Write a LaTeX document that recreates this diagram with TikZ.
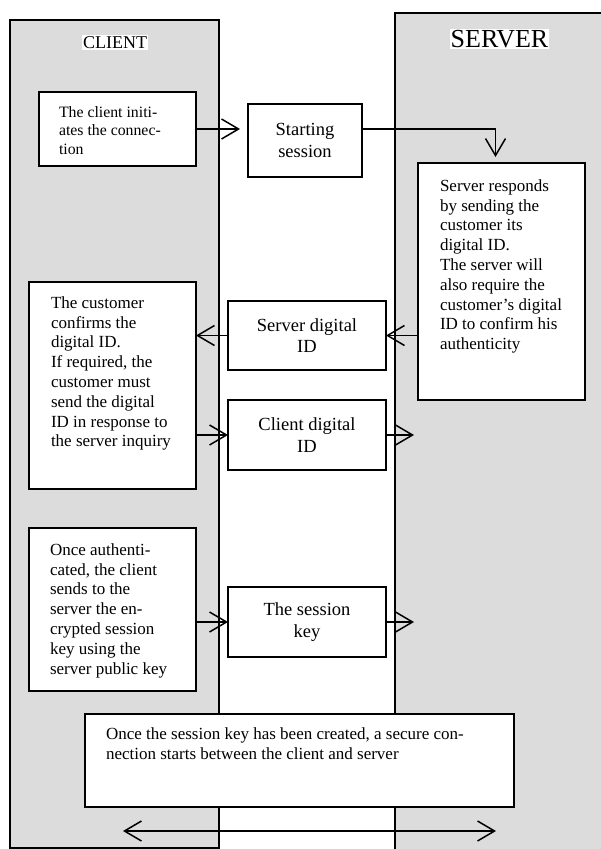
\documentclass[tikz,border=0pt]{standalone}
\usepackage{fontspec}
\setmainfont{Liberation Serif}
\usetikzlibrary{arrows.meta}
\definecolor{panelgray}{RGB}{220,220,220}

\begin{document}
\begin{tikzpicture}[x=1pt, y=-1pt, inner sep=0pt, outer sep=0pt,
	>={Straight Barb[length=17pt,width=20pt]},
	panel/.style={draw, fill=panelgray, line width=1.5pt, anchor=north west},
	box/.style={draw, fill=white, line width=1.5pt, anchor=north west},
	midbox/.style={box, align=center, font=\fontsize{18.5}{21.5}\selectfont},
	note/.style={anchor=north west, align=left, font=\fontsize{17}{19.8}\selectfont},
	flow/.style={->, line width=1.5pt}]
	\useasboundingbox (0,0) rectangle (600,849);

		\node[panel, minimum width=209pt, minimum height=828pt] (client) at (10,20) {};
		\node[panel, minimum width=210pt, minimum height=840pt] (server) at (395,13) {};
		\node[fill=white, inner sep=1pt, font=\fontsize{18}{20}\selectfont] (clientlabel) at (115,42.5) {CLIENT};
		\node[fill=white, inner sep=1pt, font=\fontsize{26}{28}\selectfont] (serverlabel) at (499.5,39) {SERVER};

		\node[box, minimum width=157pt, minimum height=74pt] (initbox) at (39,92) {};
		\node[midbox, minimum width=114pt, minimum height=73pt] (startbox) at (248,104) {Starting\\session};
		\node[box, minimum width=167pt, minimum height=237pt] (respbox) at (418,163) {};
		\node[box, minimum width=167pt, minimum height=207pt] (custbox) at (29,282) {};
		\node[midbox, minimum width=158pt, minimum height=69pt] (servbox) at (228,301) {Server digital\\ID};
		\node[midbox, minimum width=158pt, minimum height=70pt] (clidbox) at (228,400) {Client digital\\ID};
		\node[box, minimum width=167pt, minimum height=163pt] (authbox) at (29,528) {};
		\node[midbox, minimum width=158pt, minimum height=70pt] (keybox) at (228,587) {The session\\key};
		\node[box, minimum width=429pt, minimum height=93pt] (endbox) at (85,714) {};

		\node[note, font=\fontsize{15.8}{18.5}\selectfont] (inittext) at (59,106.2) {The client initi-\\ates the connec-\\tion};
		\node[note] (resptext) at (440,179.5) {Server responds\\by sending the\\customer its\\digital ID.\\The server will\\also require the\\customer’s digital\\ID to confirm his\\authenticity};
		\node[note] (custtext) at (51,296.5) {The customer\\confirms the\\digital ID.\\If required, the\\customer must\\send the digital\\ID in response to\\the server inquiry};
		\node[note] (authtext) at (50,543.5) {Once authenti-\\cated, the client\\sends to the\\server the en-\\crypted session\\key using the\\server public key};
		\node[note] (endtext) at (106,727.5) {Once the session key has been created, a secure con-\\nection starts between the client and server};

		\coordinate (clidend) at (414,435);
		\coordinate (keyend) at (414,622);
		\coordinate (linkleft) at (123,831);
		\coordinate (linkright) at (496,831);

		\draw[flow, shorten >=8pt] (initbox.east) -- (initbox.east -| startbox.west);
		\draw[flow, shorten >=6pt] (initbox.east -| startbox.east) -| ([xshift=-6pt]respbox.north);
		\draw[flow] (servbox.east -| respbox.west) -- (servbox.east);
		\draw[flow] (servbox.west) -- (servbox.west -| custbox.east);
		\draw[flow] (clidbox.west -| custbox.east) -- (clidbox.west);
		\draw[flow] (clidbox.east) -- (clidend);
		\draw[flow] (keybox.west -| authbox.east) -- (keybox.west);
		\draw[flow] (keybox.east) -- (keyend);
		\draw[flow, <->] (linkleft) -- (linkright);
	\end{tikzpicture}
\end{document}
